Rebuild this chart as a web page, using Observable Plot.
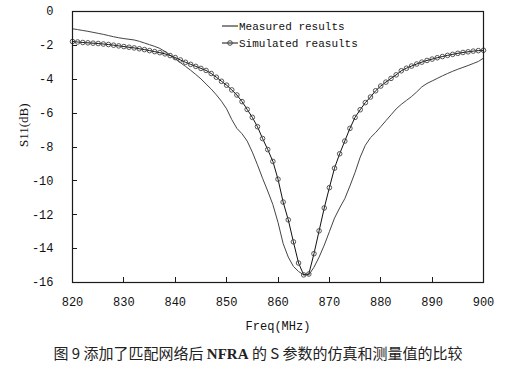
<!DOCTYPE html>
<html><head><meta charset="utf-8">
<script src="https://cdn.jsdelivr.net/npm/d3@7"></script>
<script src="https://cdn.jsdelivr.net/npm/@observablehq/plot@0.6"></script>
<style>
body{margin:0;background:#fff;width:512px;height:375px;overflow:hidden}
#cap{font-family:"Noto Sans CJK SC","Liberation Serif",serif;font-size:15px;text-align:center;line-height:26px;color:#222;margin-left:4px}
#cap b{font-family:"Liberation Serif",serif;font-weight:bold}
</style></head><body><div id="chart"></div><div id="cap"></div>
<script>
const freq = [820,821,822,823,824,825,826,827,828,829,830,831,832,833,834,835,836,837,838,839,840,841,842,843,844,845,846,847,848,849,850,851,852,853,854,855,856,857,858,859,860,861,862,863,864,865,866,867,868,869,870,871,872,873,874,875,876,877,878,879,880,881,882,883,884,885,886,887,888,889,890,891,892,893,894,895,896,897,898,899,900];
const measured = [-1.02,-1.07,-1.12,-1.17,-1.23,-1.29,-1.35,-1.42,-1.49,-1.55,-1.60,-1.64,-1.68,-1.76,-1.86,-1.96,-2.06,-2.18,-2.36,-2.58,-2.80,-3.02,-3.24,-3.47,-3.72,-3.98,-4.28,-4.58,-4.92,-5.30,-5.75,-6.38,-6.90,-7.22,-7.65,-8.30,-9.05,-9.85,-10.6,-11.4,-12.45,-13.7,-14.5,-15.05,-15.35,-15.55,-15.55,-15.1,-14.5,-13.8,-13.0,-12.2,-11.6,-11.05,-10.3,-9.5,-8.6,-7.9,-7.45,-7.15,-6.8,-6.45,-6.1,-5.75,-5.48,-5.25,-5.02,-4.75,-4.45,-4.25,-4.1,-3.95,-3.8,-3.66,-3.53,-3.41,-3.3,-3.19,-3.07,-2.95,-2.75];
const simulated = [-1.77,-1.80,-1.83,-1.85,-1.87,-1.89,-1.92,-1.95,-1.99,-2.03,-2.07,-2.11,-2.15,-2.20,-2.25,-2.31,-2.37,-2.43,-2.50,-2.60,-2.72,-2.86,-3.00,-3.12,-3.24,-3.36,-3.48,-3.66,-3.88,-4.12,-4.35,-4.63,-4.93,-5.32,-5.78,-6.25,-6.8,-7.5,-8.15,-8.85,-9.9,-11.25,-12.3,-13.6,-14.85,-15.55,-15.5,-14.3,-12.95,-11.6,-10.4,-9.25,-8.4,-7.65,-6.9,-6.25,-5.8,-5.38,-5.05,-4.68,-4.4,-4.17,-3.95,-3.74,-3.5,-3.35,-3.22,-3.1,-2.99,-2.89,-2.81,-2.73,-2.66,-2.59,-2.53,-2.47,-2.42,-2.38,-2.34,-2.31,-2.29];
const xTicks = [820,830,840,850,860,870,880,890,900];
const yTicks = [0,-2,-4,-6,-8,-10,-12,-14,-16];
const xDomain = [820, 900];
const yDomain = [-16, 0];
const seriesNames = ["Measured results","Simulated reasults"];
const xTitle = "Freq(MHz)";
const yTitle = "S11(dB)";
const caption = ["图 9 添加了匹配网络后 ","NFRA"," 的 S 参数的仿真和测量值的比较"];

const meas = freq.map((f,i)=>({f, v: measured[i]}));
const sim = freq.map((f,i)=>({f, v: simulated[i]}));
const mono = "'Liberation Mono','DejaVu Sans Mono',monospace";

const chart = Plot.plot({
  width: 512, height: 340,
  marginLeft: 72, marginRight: 29, marginTop: 11, marginBottom: 58,
  x: {domain: xDomain},
  y: {domain: yDomain},
  marks: [
    Plot.axisY(yTicks, {tickSize: 0, tickPadding: 19, tickFormat: d => `${d}`, label: null, fontSize: 12, fontFamily: mono, fill: "#111"}),
    Plot.axisX(xTicks, {tickSize: 0, tickPadding: 15, tickFormat: d => `${d}`, label: null, fontSize: 12, fontFamily: mono, fill: "#111"}),
    Plot.line(meas, {x: "f", y: "v", stroke: "#444", strokeWidth: 1}),
    Plot.line(sim, {x: "f", y: "v", stroke: "#111", strokeWidth: 1}),
    Plot.dot(sim, {x: "f", y: "v", r: 2.3, stroke: "#444", strokeWidth: 0.9, fill: "none"}),
    Plot.text([xTitle], {frameAnchor: "bottom", dy: 47, fontFamily: mono, fontSize: 12, fill: "#111"}),
    Plot.text([yTitle], {frameAnchor: "left", dx: -49, rotate: -90, fontFamily: "'Liberation Serif',serif", fontSize: 13, fill: "#111"})
  ]
});
document.getElementById("chart").appendChild(chart);

// frame and inward ticks, positioned through the chart's own scales
const sx = chart.scale("x"), sy = chart.scale("y");
const svg = d3.select(chart);
const x0 = sx.apply(xDomain[0]), x1 = sx.apply(xDomain[1]);
const y0 = sy.apply(yDomain[1]), y1 = sy.apply(yDomain[0]);
const ax = svg.append("g").attr("stroke", "#1a1a1a").attr("fill", "none");
ax.append("rect").attr("x", x0 + 0.5).attr("y", y0 + 0.5).attr("width", x1 - x0).attr("height", y1 - y0).attr("stroke-width", 1.2);
yTicks.forEach(t => {
  const y = Math.round(sy.apply(t)) + 0.5;
  ax.append("line").attr("x1", x0).attr("x2", x0 + 5).attr("y1", y).attr("y2", y);
});
xTicks.forEach(t => {
  const x = Math.round(sx.apply(t)) + 0.5;
  ax.append("line").attr("x1", x).attr("x2", x).attr("y1", y1).attr("y2", y1 - 5);
});

// legend
const lg = svg.append("g").attr("font-family", mono).attr("font-size", 11).attr("fill", "#111").attr("text-anchor", "start");
seriesNames.forEach((name, i) => {
  const y = 26 + i * 17;
  lg.append("line").attr("x1", 222).attr("x2", 238).attr("y1", y).attr("y2", y).attr("stroke", "#111");
  if (i === 1) lg.append("circle").attr("cx", 230).attr("cy", y).attr("r", 2.3).attr("fill", "none").attr("stroke", "#444");
  lg.append("text").attr("x", 239).attr("y", y).attr("dy", "0.35em").text(name);
});

const cap = document.getElementById("cap");
cap.append(caption[0]);
const b = document.createElement("b"); b.textContent = caption[1]; cap.append(b);
cap.append(caption[2]);
</script></body></html>
